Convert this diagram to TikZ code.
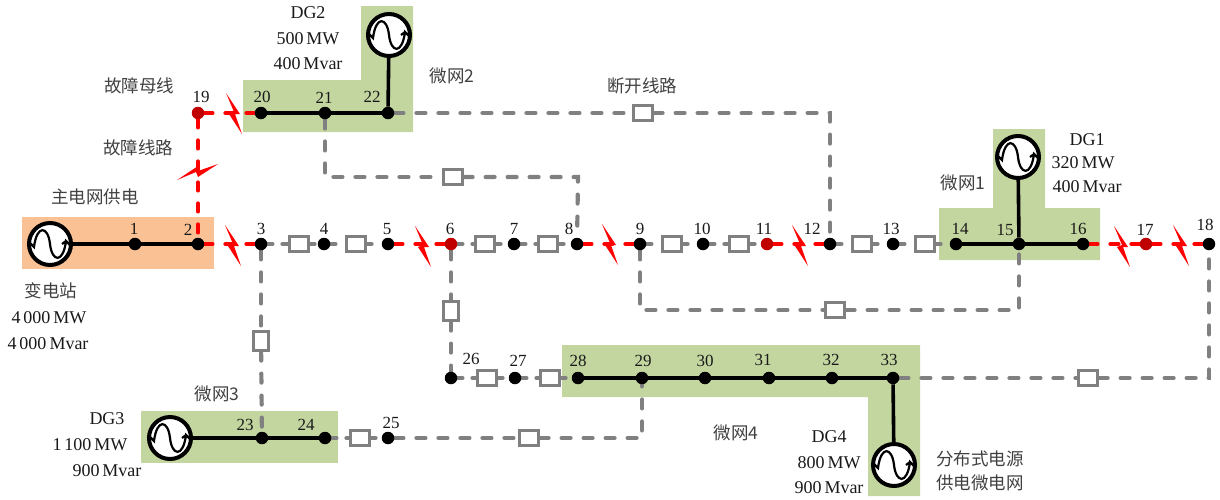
\documentclass[tikz,border=0pt]{standalone}
\usepackage{fontspec}
\setmainfont{Liberation Serif}
\newfontfamily\cjk{Noto Sans CJK SC}
\usetikzlibrary{backgrounds}
\definecolor{mgreen}{HTML}{C4D6A0}
\definecolor{morange}{HTML}{FAC194}
\definecolor{tiegray}{HTML}{808080}
\definecolor{darkbus}{HTML}{C00000}
\begin{document}
\begin{tikzpicture}[x=1pt, y=-1pt]
\tikzset{bus/.style={circle, fill=black, inner sep=0pt, minimum size=12.5pt},
  faultbus/.style={bus, fill=darkbus},
  num/.style={font=\fontsize{17}{17}\selectfont, inner sep=0pt, text=black!90},
  txt/.style={font=\fontsize{18}{18}\selectfont, inner sep=0pt, text=black!90},
  zh/.style={font=\fontsize{17.5}{17.5}\selectfont\cjk, inner sep=0pt, text=black!75},
  kg/.style={draw=tiegray, fill=white, line width=2.2pt, inner sep=0pt, minimum width=19pt, minimum height=15pt},
  kgv/.style={kg, minimum width=15pt, minimum height=19pt},
  gen/.style={draw, circle, fill=white, line width=4pt, inner sep=0pt, minimum size=42pt,
    path picture={\draw[line width=2.2pt, shift={(path picture bounding box.center)}]
      (-20,-1) -- (-16,3) .. controls (-13,-20) and (-2,-18) .. (0,0)
      .. controls (2,18) and (13,20) .. (16,-3) -- (20,1) (16,-3) -- (12,0);}},
  solid line/.style={line width=3.6pt},
  tie/.style={draw=tiegray, line width=4.2pt, line cap=round, dash pattern=on 9pt off 13pt},
  tieshort/.style={draw=tiegray, line width=4.2pt, line cap=round, dash pattern=on 5pt off 10pt},
  fline/.style={draw=red, line width=4.2pt, line cap=round, dash pattern=on 8pt off 13pt},
  boltmark/.pic={\fill[red] (-6,-20) -- (8,1) -- (3,1) -- (10,21) -- (-3,1) -- (2,-1) -- cycle;}}
\useasboundingbox (0,0) rectangle (1220,499);

\node[gen] (G0) at (50,244) {};
\node[gen] (G1) at (1018,157) {};
\node[gen] (G2) at (389,35) {};
\node[gen] (G3) at (170,438) {};
\node[gen] (G4) at (894,465) {};

\node[bus] (B1) at (135,244) {};
\node[bus] (B2) at (198,244) {};
\node[bus] (B3) at (261,244) {};
\node[bus] (B4) at (324,244) {};
\node[bus] (B5) at (388,244) {};
\node[faultbus] (B6) at (451,244) {};
\node[bus] (B7) at (514,244) {};
\node[bus] (B8) at (577,244) {};
\node[bus] (B9) at (640,244) {};
\node[bus] (B10) at (703,244) {};
\node[faultbus] (B11) at (767,244) {};
\node[bus] (B12) at (830,244) {};
\node[bus] (B13) at (893,244) {};
\node[bus] (B14) at (956,244) {};
\node[bus] (B15) at (1019,244) {};
\node[bus] (B16) at (1083,244) {};
\node[faultbus] (B17) at (1146,244) {};
\node[bus] (B18) at (1209,244) {};
\node[faultbus] (B19) at (198,113) {};
\node[bus] (B20) at (261,113) {};
\node[bus] (B21) at (325,113) {};
\node[bus] (B22) at (388,113) {};
\node[bus] (B23) at (262,438) {};
\node[bus] (B24) at (325,438) {};
\node[bus] (B25) at (388,438) {};
\node[bus] (B26) at (451,378) {};
\node[bus] (B27) at (515,378) {};
\node[bus] (B28) at (578,378) {};
\node[bus] (B29) at (642,378) {};
\node[bus] (B30) at (705,378) {};
\node[bus] (B31) at (769,378) {};
\node[bus] (B32) at (832,378) {};
\node[bus] (B33) at (893,378) {};

\node[kg] (K1) at (299,244) {};
\node[kg] (K2) at (356,244) {};
\node[kg] (K3) at (485,244) {};
\node[kg] (K4) at (548,244) {};
\node[kg] (K5) at (672,244) {};
\node[kg] (K6) at (739,244) {};
\node[kg] (K7) at (862,244) {};
\node[kg] (K8) at (925,244) {};
\node[kg] (K9) at (643,113) {};
\node[kg] (K10) at (453,177) {};
\node[kg] (K11) at (835,310) {};
\node[kg] (K12) at (1088,378) {};
\node[kg] (K13) at (487,378) {};
\node[kg] (K14) at (550,378) {};
\node[kg] (K15) at (360,438) {};
\node[kg] (K16) at (529,438) {};
\node[kgv] (K17) at (261,341) {};
\node[kgv] (K18) at (451,311) {};

\coordinate (C1) at (830,113);
\coordinate (C2) at (325,177);
\coordinate (C3) at (578,177);
\coordinate (C4) at (640,310);
\coordinate (C5) at (1019,310);
\coordinate (C7) at (1209,378);
\coordinate (C8) at (642,438);

\begin{scope}[on background layer]
\fill[morange] (22,217) rectangle (214,269);
\fill[mgreen] (243,80) -- (361,80) -- (361,6) -- (413,6) -- (413,132) -- (243,132) -- cycle;
\fill[mgreen] (939,208) -- (993,208) -- (993,129) -- (1045,129) -- (1045,208) -- (1100,208) -- (1100,260) -- (939,260) -- cycle;
\fill[mgreen] (141,411) rectangle (338,463);
\fill[mgreen] (562,345) -- (920,345) -- (920,496) -- (868,496) -- (868,397) -- (562,397) -- cycle;

\draw[tieshort] (B3) -- (K1);
\draw[tieshort] (K1) -- (B4);
\draw[tieshort] (B4) -- (K2);
\draw[tieshort] (K2) -- (B5);
\draw[tieshort] (B6) -- (K3);
\draw[tieshort] (K3) -- (B7);
\draw[tieshort] (B7) -- (K4);
\draw[tieshort] (K4) -- (B8);
\draw[tieshort] (B9) -- (K5);
\draw[tieshort] (K5) -- (B10);
\draw[tieshort] (B10) -- (K6);
\draw[tieshort] (K6) -- (B11);
\draw[tieshort] (B12) -- (K7);
\draw[tieshort] (K7) -- (B13);
\draw[tieshort] (B13) -- (K8);
\draw[tieshort] (K8) -- (B14);
\draw[tieshort] (B26) -- (K13);
\draw[tieshort] (K13) -- (B27);
\draw[tieshort] (B27) -- (K14);
\draw[tieshort] (K14) -- (B28);
\draw[tieshort] (B24) -- (K15);
\draw[tieshort] (K15) -- (B25);

\draw[tie] (B22) -- (K9);
\draw[tie] (K9) -- (C1) -- (B12);
\draw[tie] (B21) -- (C2) -- (K10);
\draw[tie] (K10) -- (C3) -- (B8);
\draw[tie] (B9) -- (C4) -- (K11);
\draw[tie] (K11) -- (C5) -- (B15);
\draw[tie] (B3) -- (K17);
\draw[tie] (K17) -- (B23);
\draw[tie] (B6) -- (K18);
\draw[tie] (K18) -- (B26);
\draw[tie] (B33) -- (K12);
\draw[tie] (K12) -- (C7) -- (B18);
\draw[tie] (B25) -- (K16);
\draw[tie] (K16) -- (C8) -- (B29);

\draw[fline] (B2) -- (B3);
\draw[fline] (B5) -- (B6);
\draw[fline] (B8) -- (B9);
\draw[fline] (B11) -- (B12);
\draw[fline] (B16) -- (B17);
\draw[fline] (B17) -- (B18);
\draw[fline] (B19) -- (B20);
\draw[fline] (B19) -- (B2);

\draw[solid line] (G0) -- (B1) -- (B2);
\draw[solid line] (G2) -- (B22);
\draw[solid line] (B20) -- (B21) -- (B22);
\draw[solid line] (G1) -- (B15);
\draw[solid line] (B14) -- (B15) -- (B16);
\draw[solid line] (G3) -- (B23) -- (B24);
\draw[solid line] (G4) -- (B33);
\draw[solid line] (B28) -- (B29) -- (B30) -- (B31) -- (B32) -- (B33);
\end{scope}

\pic at (232,113) {boltmark};
\pic at (231,245) {boltmark};
\pic at (421,246) {boltmark};
\pic at (608,244) {boltmark};
\pic at (798,245) {boltmark};
\pic at (1120,246) {boltmark};
\pic at (1179,245) {boltmark};
\pic[rotate=90] at (197,174) {boltmark};

\node[num] (n1) at (134,229) {1};
\node[num] (n2) at (188,230) {2};
\node[num] (n3) at (261,229) {3};
\node[num] (n4) at (324,229) {4};
\node[num] (n5) at (387,229) {5};
\node[num] (n6) at (450,229) {6};
\node[num] (n7) at (514,229) {7};
\node[num] (n8) at (569,229) {8};
\node[num] (n9) at (640,229) {9};
\node[num] (n10) at (702,229) {10};
\node[num] (n11) at (764,229) {11};
\node[num] (n12) at (812,229) {12};
\node[num] (n13) at (891,229) {13};
\node[num] (n14) at (960,229) {14};
\node[num] (n15) at (1005,230) {15};
\node[num] (n16) at (1078,229) {16};
\node[num] (n17) at (1145,230) {17};
\node[num] (n18) at (1205,225) {18};
\node[num] (n19) at (201,97) {19};
\node[num] (n20) at (262,97) {20};
\node[num] (n21) at (324,98) {21};
\node[num] (n22) at (372,97) {22};
\node[num] (n23) at (245,425) {23};
\node[num] (n24) at (306,425) {24};
\node[num] (n25) at (391,423) {25};
\node[num] (n26) at (471,359) {26};
\node[num] (n27) at (518,361) {27};
\node[num] (n28) at (578,361) {28};
\node[num] (n29) at (643,361) {29};
\node[num] (n30) at (705,361) {30};
\node[num] (n31) at (763,360) {31};
\node[num] (n32) at (831,360) {32};
\node[num] (n33) at (889,360) {33};

\node[zh] (lmain) at (95,197) {主电网供电};
\node[zh] (lbus) at (139,86) {故障母线};
\node[zh] (lline) at (138,148) {故障线路};
\node[zh] (lopen) at (642,86) {断开线路};
\node[zh] (lm1) at (963,183) {微网1};
\node[zh] (lm2) at (452,76) {微网2};
\node[zh] (lm3) at (217,394) {微网3};
\node[zh] (lm4) at (736,433) {微网4};
\node[zh] (lsub) at (51,291) {变电站};
\node[zh] (ldist) at (980,459) {分布式电源};
\node[zh] (ldistb) at (980,483) {供电微电网};

\node[txt] (d1a) at (1087,140) {DG1};
\node[txt] (d1b) at (1083,163) {320\,MW};
\node[txt] (d1c) at (1087,187) {400\,Mvar};
\node[txt] (d2a) at (308,13) {DG2};
\node[txt] (d2b) at (308,39) {500\,MW};
\node[txt] (d2c) at (308,64) {400\,Mvar};
\node[txt] (d3a) at (107,419) {DG3};
\node[txt] (d3b) at (90,445) {1\,100\,MW};
\node[txt] (d3c) at (107,471) {900\,Mvar};
\node[txt] (d4a) at (829,437) {DG4};
\node[txt] (d4b) at (829,463) {800\,MW};
\node[txt] (d4c) at (829,488) {900\,Mvar};
\node[txt] (s1) at (49,318) {4\,000\,MW};
\node[txt] (s2) at (48,344) {4\,000\,Mvar};
\end{tikzpicture}
\end{document}
